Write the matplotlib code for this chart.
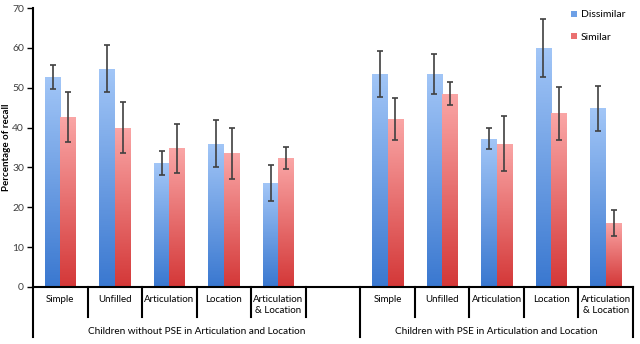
"""
Recall by condition, grouped bars with error bars
"""
import matplotlib
matplotlib.use('Agg')
import matplotlib.pyplot as plt
import numpy as np
from matplotlib.colors import LinearSegmentedColormap
from matplotlib.patches import Patch

categories = ['Simple', 'Unfilled', 'Articulation', 'Location', 'Articulation\n& Location']
groups = ['Children without PSE in Articulation and Location',
          'Children with PSE in Articulation and Location']

dissimilar = [52.7, 54.8, 31.0, 36.0, 26.1, 53.5, 53.5, 37.2, 60.0, 44.8]
dissimilar_err = [3.0, 5.8, 3.0, 5.9, 4.5, 5.8, 5.0, 2.6, 7.2, 5.6]
similar = [42.7, 40.0, 34.8, 33.5, 32.3, 42.2, 48.5, 36.0, 43.6, 16.1]
similar_err = [6.2, 6.5, 6.1, 6.5, 2.8, 5.3, 2.9, 7.0, 6.6, 3.2]

plt.rcParams['font.family'] = ['Lato', 'DejaVu Sans']

fig = plt.figure(figsize=(6.4, 3.44), dpi=100)
ax = fig.add_axes([33 / 640, 57 / 344, 600 / 640, 279 / 344])

# slots 0-4 first group, slot 5 empty, 6-10 second group
pos = np.array([0, 1, 2, 3, 4, 6, 7, 8, 9, 10])
w = 0.285

blue_cmap = LinearSegmentedColormap.from_list('b', ['#3a78d0', '#a2c6f7'])
red_cmap = LinearSegmentedColormap.from_list('r', ['#d43838', '#faa6a6'])

bars_d = ax.bar(pos - w / 2, dissimilar, w, color='#6ea0e6', zorder=2)
bars_s = ax.bar(pos + w / 2, similar, w, color='#ea7070', zorder=2)

grad = np.linspace(0, 1, 100).reshape(-1, 1)
for bars, cmap in ((bars_d, blue_cmap), (bars_s, red_cmap)):
    for b in bars:
        x0, y0 = b.get_x(), b.get_y()
        im = ax.imshow(grad, cmap=cmap, origin='lower', aspect='auto',
                       extent=(x0, x0 + b.get_width(), y0, y0 + b.get_height()), zorder=2)
        im.set_clip_path(b)

ax.errorbar(pos - w / 2, dissimilar, yerr=dissimilar_err, fmt='none', ecolor='#404040',
            elinewidth=1.2, capsize=2.5, capthick=1.2, zorder=3)
ax.errorbar(pos + w / 2, similar, yerr=similar_err, fmt='none', ecolor='#404040',
            elinewidth=1.2, capsize=2.5, capthick=1.2, zorder=3)

ax.set_xlim(-0.5, 10.5)
ax.set_ylim(0, 70)
ax.set_yticks(range(0, 71, 10))
ax.tick_params(axis='y', direction='out', length=4, width=1, labelsize=7.5, pad=2.5,
               labelcolor='#404040')
ax.set_xticks([])
for s in ('top', 'right'):
    ax.spines[s].set_visible(False)
ax.spines['left'].set_linewidth(1.5)
ax.spines['bottom'].set_linewidth(1.5)
ax.set_ylabel('Percentage of recall', fontsize=7, fontweight='bold', va='center')
ax.yaxis.set_label_coords(-26 / 600, 0.5)

# category separators below the axis
trans = ax.get_xaxis_transform()
for xb in [0.5, 1.5, 2.5, 3.5, 4.5, 6.5, 7.5, 8.5, 9.5]:
    ax.plot([xb, xb], [0, -30 / 279], color='black', lw=1.5, transform=trans, clip_on=False)
for xb in [-0.5, 5.5, 10.5]:
    ax.plot([xb, xb], [0, -50 / 279], color='black', lw=1.5, transform=trans, clip_on=False)

for i, p in enumerate(pos):
    label = categories[i % 5]
    ax.text(p, -8 / 279, label, transform=trans, ha='center', va='top', fontsize=7,
            linespacing=1.3)
ax.text(2.5, -45 / 279, groups[0], transform=trans, ha='center', va='center', fontsize=7.2)
ax.text(8.0, -45 / 279, groups[1], transform=trans, ha='center', va='center', fontsize=7.2)

handles = [Patch(facecolor='#6ea0e6'), Patch(facecolor='#ea7070')]
fig.legend(handles, ['Dissimilar', 'Similar'], loc='upper left',
           bbox_to_anchor=(562 / 640, 1 - 1 / 344), frameon=False, fontsize=7.5,
           handlelength=0.5, handleheight=0.5, handletextpad=0.4, labelspacing=1.3)

fig.savefig('out.png', dpi=100)
